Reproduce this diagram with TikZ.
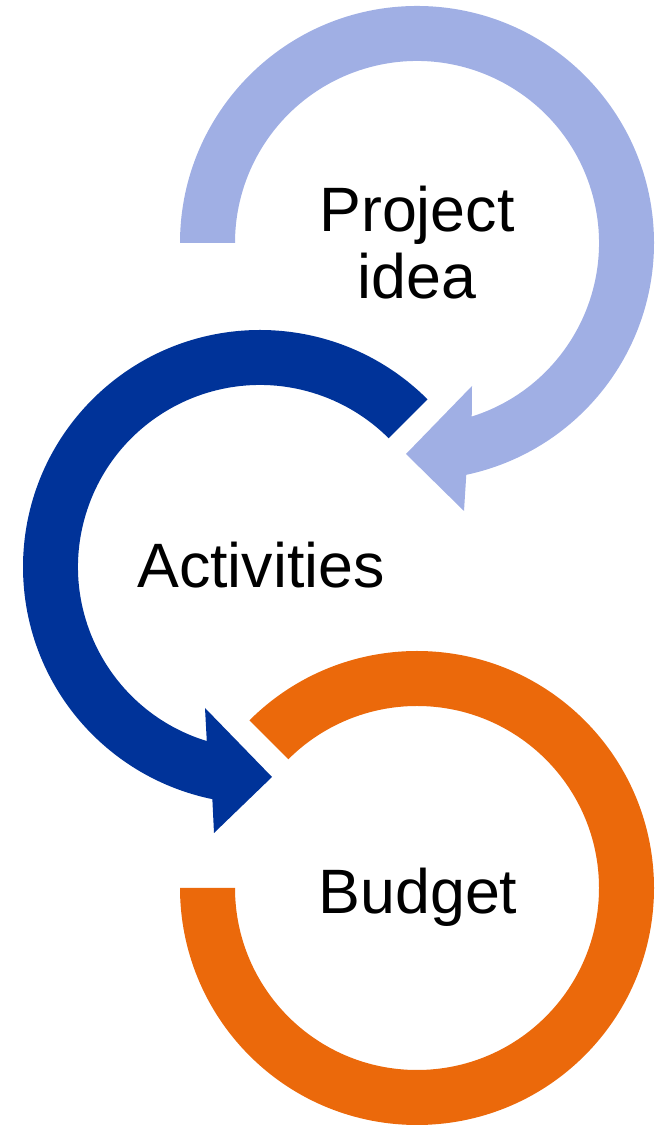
\documentclass[tikz,border=0pt]{standalone}
\usepackage{fontspec}
\setmainfont{Liberation Sans}

\definecolor{ideablue}{RGB}{160,175,228}
\definecolor{actblue}{RGB}{0,51,153}
\definecolor{budgetorange}{RGB}{235,105,11}

\begin{document}
\begin{tikzpicture}[
    x=0.02cm, y=0.02cm,
    ideaarrow/.style={fill=ideablue, draw=none},
    actarrow/.style={fill=actblue, draw=none},
    budgetring/.style={fill=budgetorange, draw=none},
    txt/.style={font=\fontsize{35.7}{38}\selectfont, align=center, text=black, inner sep=0pt}
]
\useasboundingbox (0,0) rectangle (654,1125);

\coordinate (idea) at (417,882);
\coordinate (act) at (260,558);
\coordinate (budget) at (417,237);

\fill[ideaarrow] ([shift={(180:237)}]idea) arc[start angle=180, end angle=-78, radius=237]
    -- (464,614) -- (406,671) -- (472,739) -- ([shift={(-72.5:182)}]idea)
    arc[start angle=-72.5, end angle=180, radius=182] -- cycle;

\fill[actarrow] ([shift={(45:237)}]act) arc[start angle=45, end angle=258.4, radius=237]
    -- (214,292) -- (272,348) -- (205,417) -- ([shift={(253:182)}]act)
    arc[start angle=253, end angle=45, radius=182] -- cycle;

\fill[budgetring] ([shift={(135:237)}]budget) arc[start angle=135, end angle=-180, radius=237]
    -- ([shift={(180:182)}]budget) arc[start angle=-180, end angle=135, radius=182] -- cycle;

\node[txt] (ideatext) at (417,882.5) {Project\\idea};
\node[txt] (acttext) at (261,560) {Activities};
\node[txt] (budgettext) at (418,228) {Budget};

\end{tikzpicture}
\end{document}
